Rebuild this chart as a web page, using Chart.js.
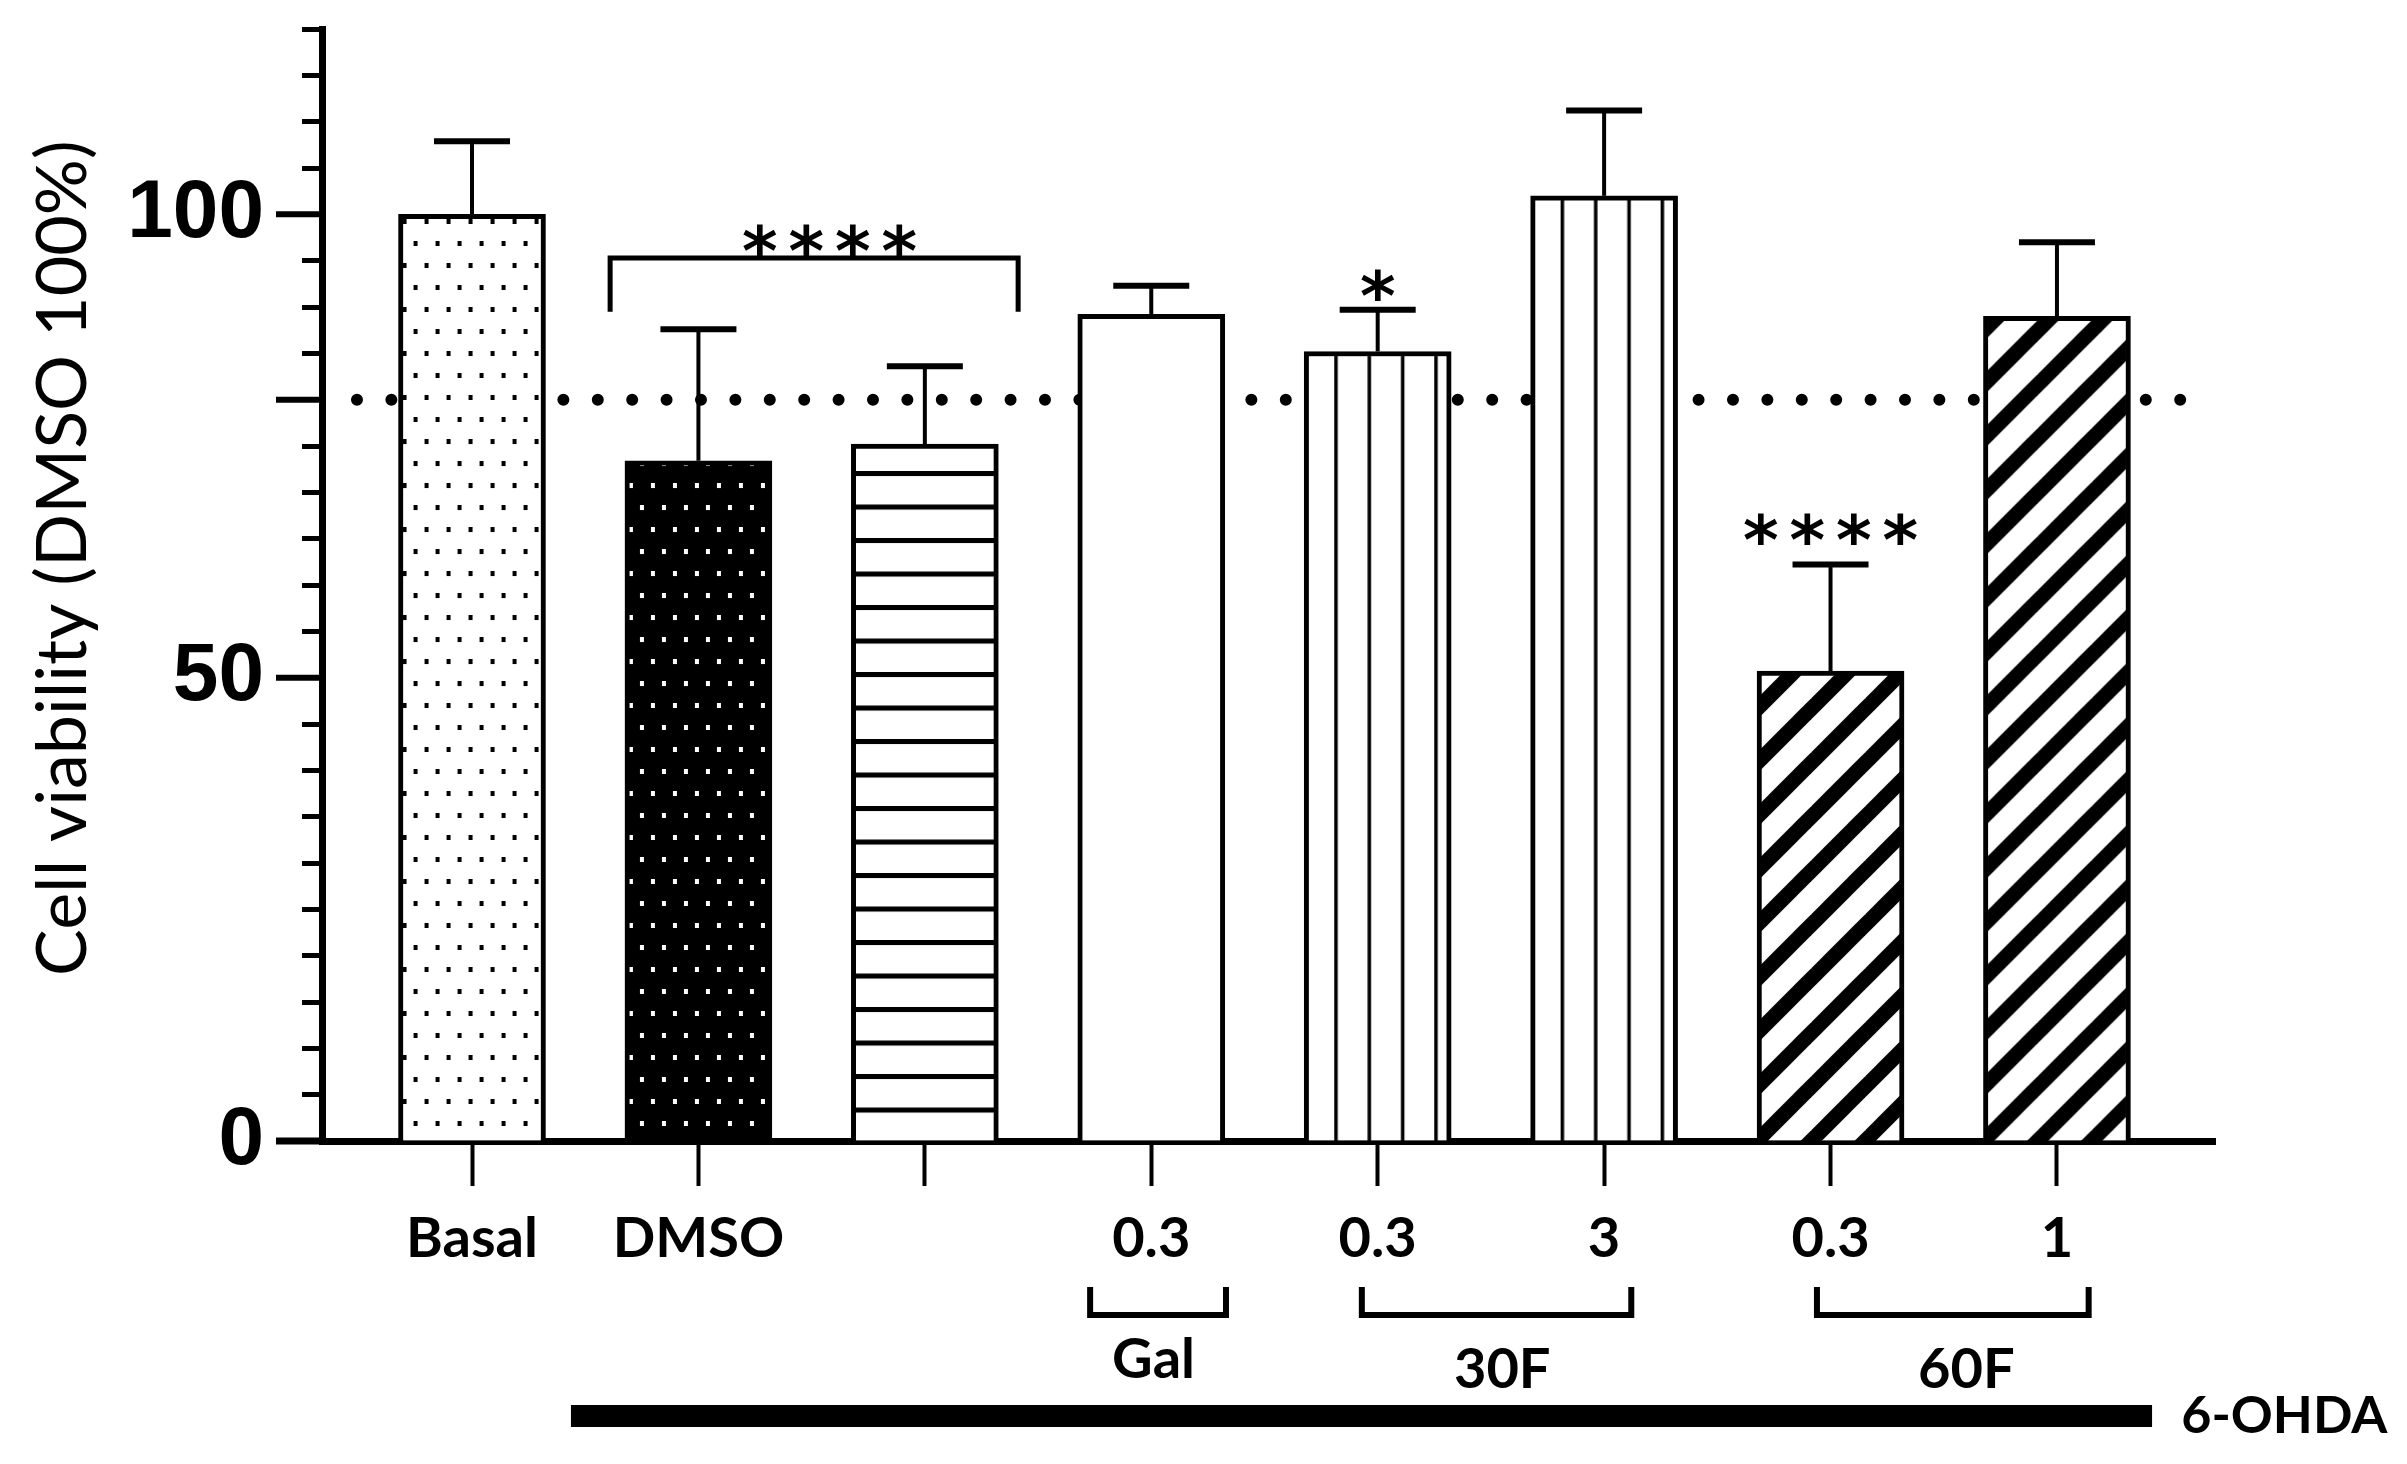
<!DOCTYPE html>
<html>
<head>
<meta charset="utf-8">
<script src="https://cdn.jsdelivr.net/npm/chart.js@4.4.1/dist/chart.umd.min.js"></script>
<style>
  html, body { margin: 0; padding: 0; background: #fff; }
  canvas { display: block; }
</style>
</head>
<body>
<canvas id="chart" width="2407" height="1464"></canvas>
<script>
// ── data ─────────────────────────────────────────────────────────────────────
const CATEGORIES = ["Basal", "DMSO", "", "0.3", "0.3", "3", "0.3", "1"];
const VIABILITY = [100, 73.4, 75.2, 89.2, 85.2, 102.0, 50.7, 89.0];
const SEM = [7.9, 14.2, 8.4, 3.1, 4.5, 9.2, 11.5, 8.0];
const FILLS = ["dots", "dotsInverse", "hlines", "plain", "vlines", "vlines", "diagonal", "diagonal"];
const LABELLED_Y = [0, 50, 100];
const MAJOR_Y = [0, 50, 80, 100];
const THRESHOLD = 80;
const GROUP_NAMES = ["Gal", "30F", "60F"];
const TREATMENT = "6-OHDA";
const SIG_TEXT = ["****", "*", "****"];

// ── layout of annotations (axis units / px) ─────────────────────────────────
const BAR_PX = 147;
const SIG_LAYOUT = [
  { x: 1.579, bottom: 95.5, bracket: { from: 0.610, to: 2.412, top: 95.3, foot: 89.5 } },
  { x: 4.0, bottom: 90.6 },
  { x: 6.0, bottom: 64.3 },
];
const GROUP_LAYOUT = [
  { from: 2.73, to: 3.33, labelX: 3.01, labelDy: 219 },
  { from: 3.93, to: 5.12, labelX: 4.55, labelDy: 229 },
  { from: 5.94, to: 7.14, labelX: 6.60, labelDy: 229 },
];
const TREATMENT_LAYOUT = { from: 0.437, to: 7.42, dy: 275, textX: 7.549 };

const LABEL_FONT = "Lato, 'Open Sans', sans-serif";
const NUM_FONT = "'Liberation Sans Narrow', 'Liberation Sans', Arial, sans-serif";

// ── fill patterns ────────────────────────────────────────────────────────────
function tile(w, h, draw) {
  const c = document.createElement("canvas");
  c.width = w;
  c.height = h;
  const g = c.getContext("2d");
  draw(g, w, h);
  return c;
}

const TILES = {
  dots: () => tile(22, 44, (g, w, h) => {
    g.fillStyle = "#fff"; g.fillRect(0, 0, w, h);
    g.fillStyle = "#000"; g.fillRect(2, 2, 4, 5); g.fillRect(13, 24, 4, 5);
  }),
  dotsInverse: () => tile(22, 44, (g, w, h) => {
    g.fillStyle = "#000"; g.fillRect(0, 0, w, h);
    g.fillStyle = "#fff"; g.fillRect(2, 2, 4, 5); g.fillRect(13, 24, 4, 5);
  }),
  hlines: () => tile(8, 67, (g, w, h) => {
    g.fillStyle = "#fff"; g.fillRect(0, 0, w, h);
    g.fillStyle = "#000"; g.fillRect(0, 0, w, 5); g.fillRect(0, 33.5, w, 5);
  }),
  vlines: () => tile(100, 8, (g, w, h) => {
    g.fillStyle = "#fff"; g.fillRect(0, 0, w, h);
    g.fillStyle = "#000";
    [0, 33.33, 66.67].forEach(x => g.fillRect(x, 0, 3.5, h));
  }),
  diagonal: () => tile(54, 54, (g, w, h) => {
    g.fillStyle = "#fff"; g.fillRect(0, 0, w, h);
    g.strokeStyle = "#000"; g.lineWidth = 15;
    [0, w, 2 * w].forEach(c => {
      g.beginPath(); g.moveTo(c - h - 6, h + 6); g.lineTo(c + 6, -6); g.stroke();
    });
  }),
};
const TILE_SHIFT = { dots: 2, dotsInverse: 2, hlines: 0, vlines: 30, diagonal: 0 };

const _patterns = FILLS.map(kind => {
  if (kind === "plain") return null;
  const ctx = document.getElementById("chart").getContext("2d");
  return ctx.createPattern(TILES[kind](), "repeat");
});

function barFill(context) {
  const pat = _patterns[context.dataIndex];
  if (!pat) return "#fff";
  const { x, y } = context.chart.scales;
  if (x && y && context.chart.chartArea) {
    const left = x.getPixelForValue(context.dataIndex) - BAR_PX / 2;
    const base = y.getPixelForValue(0);
    pat.setTransform(new DOMMatrix().translate(left + TILE_SHIFT[FILLS[context.dataIndex]], base));
  }
  return pat;
}

// ── plugins ──────────────────────────────────────────────────────────────────
const errorBars = {
  id: "errorBars",
  afterDatasetsDraw(chart) {
    const { ctx, scales: { y } } = chart;
    const meta = chart.getDatasetMeta(0);
    ctx.save();
    ctx.strokeStyle = "#000";
    meta.data.forEach((bar, i) => {
      const top = y.getPixelForValue(VIABILITY[i] + SEM[i]);
      ctx.lineWidth = 4;
      ctx.beginPath(); ctx.moveTo(bar.x, bar.y); ctx.lineTo(bar.x, top); ctx.stroke();
      ctx.lineWidth = 6;
      ctx.beginPath(); ctx.moveTo(bar.x - 38, top); ctx.lineTo(bar.x + 38, top); ctx.stroke();
    });
    ctx.restore();
  },
};

function drawStars(ctx, text, cx, bottom) {
  ctx.font = "bold 100px 'DejaVu Sans'";
  const m = ctx.measureText("*");
  const size = 32 / (m.actualBoundingBoxAscent + m.actualBoundingBoxDescent) * 100;
  ctx.font = `bold ${size}px 'DejaVu Sans'`;
  const mm = ctx.measureText("*");
  ctx.textAlign = "center";
  ctx.textBaseline = "alphabetic";
  const n = text.length;
  for (let k = 0; k < n; k++) {
    const x = cx + (k - (n - 1) / 2) * 46.5;
    ctx.fillText(text[k], x, bottom - mm.actualBoundingBoxDescent);
  }
}

const annotations = {
  id: "annotations",
  afterDraw(chart) {
    const { ctx, chartArea, scales: { x, y } } = chart;
    ctx.save();
    ctx.strokeStyle = "#000";
    ctx.fillStyle = "#000";

    // long ticks on the y axis
    MAJOR_Y.forEach(v => {
      const py = y.getPixelForValue(v);
      ctx.lineWidth = v === 0 ? 7 : 6;
      ctx.beginPath(); ctx.moveTo(chartArea.left - 46, py); ctx.lineTo(chartArea.left, py); ctx.stroke();
    });

    // significance
    SIG_LAYOUT.forEach((s, i) => {
      if (s.bracket) {
        const b = s.bracket;
        ctx.lineWidth = 5;
        ctx.beginPath();
        ctx.moveTo(x.getPixelForValue(b.from), y.getPixelForValue(b.foot));
        ctx.lineTo(x.getPixelForValue(b.from), y.getPixelForValue(b.top));
        ctx.lineTo(x.getPixelForValue(b.to), y.getPixelForValue(b.top));
        ctx.lineTo(x.getPixelForValue(b.to), y.getPixelForValue(b.foot));
        ctx.stroke();
      }
      drawStars(ctx, SIG_TEXT[i], x.getPixelForValue(s.x), y.getPixelForValue(s.bottom));
    });

    // dose groups under the axis
    const base = chartArea.bottom;
    ctx.font = `bold 56px ${LABEL_FONT}`;
    ctx.textAlign = "center";
    ctx.textBaseline = "middle";
    GROUP_LAYOUT.forEach((g, i) => {
      const x0 = x.getPixelForValue(g.from), x1 = x.getPixelForValue(g.to);
      ctx.lineWidth = 6;
      ctx.beginPath();
      ctx.moveTo(x0, base + 146); ctx.lineTo(x0, base + 174);
      ctx.lineTo(x1, base + 174); ctx.lineTo(x1, base + 146);
      ctx.stroke();
      ctx.fillText(GROUP_NAMES[i], x.getPixelForValue(g.labelX), base + g.labelDy);
    });

    // treatment bar
    const t = TREATMENT_LAYOUT;
    ctx.fillRect(x.getPixelForValue(t.from), base + t.dy - 11, x.getPixelForValue(t.to) - x.getPixelForValue(t.from), 22);
    ctx.font = `bold 52px ${LABEL_FONT}`;
    ctx.textAlign = "left";
    ctx.fillText(TREATMENT, x.getPixelForValue(t.textX), base + t.dy);
    ctx.restore();
  },
};

// ── chart ────────────────────────────────────────────────────────────────────
new Chart(document.getElementById("chart"), {
  type: "bar",
  data: {
    datasets: [
      {
        type: "bar",
        data: VIABILITY.map((v, i) => ({ x: i, y: v })),
        backgroundColor: barFill,
        borderColor: "#000",
        borderWidth: 5,
        barThickness: BAR_PX,
        order: 1,
      },
      {
        type: "line",
        data: [{ x: -0.508, y: THRESHOLD }, { x: 7.553, y: THRESHOLD }],
        borderColor: "#000",
        borderWidth: 12,
        borderDash: [0, 34.4],
        borderCapStyle: "round",
        pointRadius: 0,
        order: 2,
      },
    ],
  },
  options: {
    responsive: false,
    animation: false,
    devicePixelRatio: 1,
    layout: { padding: { top: 29, right: 192, bottom: 0, left: 0 } },
    plugins: { legend: { display: false }, tooltip: { enabled: false } },
    scales: {
      x: {
        type: "linear",
        min: -0.6625,
        max: 7.698,
        offset: false,
        z: 1,
        grid: { drawOnChartArea: false, drawTicks: true, tickLength: 45, tickWidth: 4, tickColor: "#000", offset: false },
        border: { color: "#000", width: 7 },
        ticks: {
          stepSize: 1,
          includeBounds: false,
          autoSkip: false,
          maxRotation: 0,
          padding: 19,
          color: "#000",
          font: { family: LABEL_FONT, weight: "bold", size: 56 },
          callback: v => (Number.isInteger(v) ? (CATEGORIES[v] ?? "") : ""),
        },
        afterFit: s => { s.height = 323; s.paddingLeft = 0; s.paddingRight = 0; },
      },
      y: {
        min: 0,
        max: 120,
        z: 1,
        grid: { drawOnChartArea: false, tickLength: 20, tickWidth: 5, tickColor: "#000" },
        border: { color: "#000", width: 7 },
        ticks: {
          stepSize: 5,
          autoSkip: false,
          padding: 38,
          color: "#000",
          font: { family: NUM_FONT, weight: "bold", size: 82 },
          callback: v => (LABELLED_Y.includes(v) ? String(v) : ""),
        },
        title: {
          display: true,
          text: "   Cell viability (DMSO 100%)",
          color: "#000",
          font: { family: LABEL_FONT, size: 70 },
          padding: { top: 21, bottom: 0 },
        },
        afterFit: s => { s.width = 322; s.paddingTop = 0; s.paddingBottom = 0; },
      },
    },
  },
  plugins: [errorBars, annotations],
});
</script>
</body>
</html>
